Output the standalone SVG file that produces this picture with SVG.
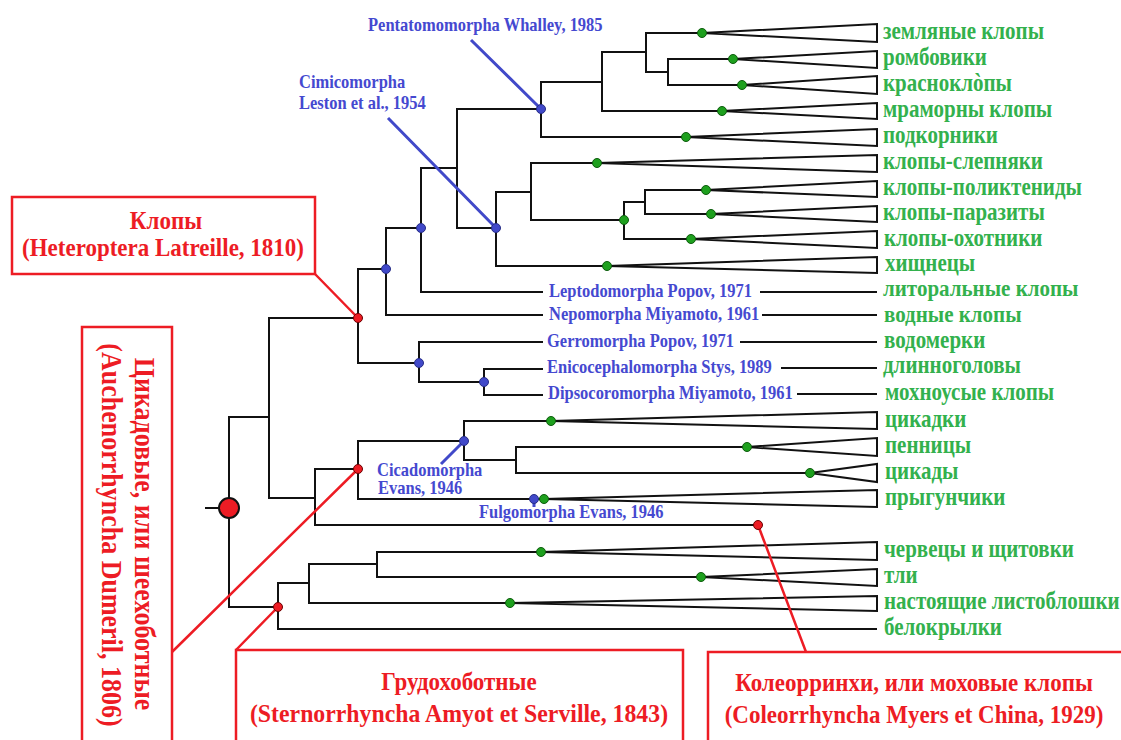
<svg xmlns="http://www.w3.org/2000/svg" width="1121" height="740" viewBox="0 0 1121 740">
<style>
.t{stroke:#111;stroke-width:2;fill:none}
.tri{stroke:#111;stroke-width:2;fill:#fff}
.g{fill:#1ea01e;stroke:#0d5c0d;stroke-width:1}
.b{fill:#4149c9;stroke:#272d86;stroke-width:1}
.r{fill:#ed1c24;stroke:#6b0000;stroke-width:1}
.lg{font-family:"Liberation Serif","Times New Roman",serif;font-weight:bold;font-size:21px;fill:#33b14d}
.lb{font-family:"Liberation Serif","Times New Roman",serif;font-weight:bold;font-size:16.5px;fill:#4549d0}
.lr{font-family:"Liberation Serif","Times New Roman",serif;font-weight:bold;font-size:23px;fill:#ed1c24;text-anchor:middle}
.lrr{font-family:"Liberation Serif","Times New Roman",serif;font-weight:bold;font-size:26px;fill:#ed1c24;text-anchor:middle}
.box{fill:#fff;stroke:#ed1c24;stroke-width:2.5}
.cr{stroke:#ed1c24;stroke-width:2.5;fill:none}
.cb{stroke:#4149c9;stroke-width:3;fill:none}
</style>
<rect width="1121" height="740" fill="#fff"/>
<g id="connectors">
<path class="t" d="M205 508H229M269 417H229V607H278M358 318H269V498H315M386 269H358V363H419M421 228H386V315H543M457 168H421V292H543M541 109H457V228H496M602 82H541V137H686M646 52H602V111H722M702 33H646V72H668M733 59H668V85H742M531 192H496V266H607M597 163H531V220H624M645 202H624V239H691M706 190H645V214H711M543 342H419V382H484M543 369H484V395H543M358 469H315V525H758M464 441H358V499H544M551 421H464V460H516M747 447H516V473H810M309 583H278V629H877M377 564H309V603H510M541 552H377V577H701M760 292H877M762 315H877M740 342H877M781 368H877M797 394H877"/>
</g>
<g id="leaves">
<g id="leaf-zemlyanye"><polygon class="tri" points="702,33 877,24 877,42"/><text class="lg" transform="translate(883,39) scale(1,1.18)">земляные клопы</text></g>
<g id="leaf-romboviki"><polygon class="tri" points="733,59 877,51 877,68"/><text class="lg" transform="translate(883,65) scale(1,1.18)">ромбовики</text></g>
<g id="leaf-krasnoklopy"><polygon class="tri" points="742,85 877,76 877,94"/><text class="lg" transform="translate(883,91) scale(1,1.18)">красноклòпы</text></g>
<g id="leaf-mramorny"><polygon class="tri" points="722,111 877,103 877,119"/><text class="lg" transform="translate(883,117) scale(1,1.18)">мраморны клопы</text></g>
<g id="leaf-podkorniki"><polygon class="tri" points="686,137 877,129 877,146"/><text class="lg" transform="translate(883,143) scale(1,1.18)">подкорники</text></g>
<g id="leaf-slepnyaki"><polygon class="tri" points="597,163 877,155 877,172"/><text class="lg" transform="translate(883,169) scale(1,1.18)">клопы-слепняки</text></g>
<g id="leaf-poliktenidy"><polygon class="tri" points="706,190 877,181 877,197"/><text class="lg" transform="translate(883,195) scale(1,1.18)">клопы-поликтениды</text></g>
<g id="leaf-parazity"><polygon class="tri" points="711,214 877,206 877,222"/><text class="lg" transform="translate(883,220) scale(1,1.18)">клопы-паразиты</text></g>
<g id="leaf-okhotniki"><polygon class="tri" points="691,239 877,231 877,248"/><text class="lg" transform="translate(884,246) scale(1,1.18)">клопы-охотники</text></g>
<g id="leaf-khishchnetsy"><polygon class="tri" points="607,266 877,257 877,273"/><text class="lg" transform="translate(885,271) scale(1,1.18)">хищнецы</text></g>
<g id="leaf-litoralnye"><text class="lb" transform="translate(549,297) scale(1,1.1)">Leptodomorpha Popov, 1971</text><text class="lg" transform="translate(883,296) scale(1,1.1)">литоральные клопы</text></g>
<g id="leaf-vodnye"><text class="lb" transform="translate(549,320) scale(1,1.1)">Nepomorpha Miyamoto, 1961</text><text class="lg" transform="translate(884,322) scale(1,1.1)">водные клопы</text></g>
<g id="leaf-vodomerki"><text class="lb" transform="translate(547,347) scale(1,1.1)">Gerromorpha Popov, 1971</text><text class="lg" transform="translate(884,348) scale(1,1.18)">водомерки</text></g>
<g id="leaf-dlinnogolovy"><text class="lb" transform="translate(547,373) scale(1,1.1)">Enicocephalomorpha Stys, 1989</text><text class="lg" transform="translate(883,373) scale(1,1.18)">длинноголовы</text></g>
<g id="leaf-mokhnousye"><text class="lb" transform="translate(548,399) scale(1,1.1)">Dipsocoromorpha Miyamoto, 1961</text><text class="lg" transform="translate(885,400) scale(1,1.18)">мохноусые клопы</text></g>
<g id="leaf-tsikadki"><polygon class="tri" points="551,421 877,412 877,429"/><text class="lg" transform="translate(885,427) scale(1,1.18)">цикадки</text></g>
<g id="leaf-pennitsy"><polygon class="tri" points="747,447 877,438 877,456"/><text class="lg" transform="translate(885,453) scale(1,1.18)">пенницы</text></g>
<g id="leaf-tsikady"><polygon class="tri" points="810,473 877,464 877,482"/><text class="lg" transform="translate(885,479) scale(1,1.18)">цикады</text></g>
<g id="leaf-prygunchiki"><polygon class="tri" points="544,499 877,490 877,507"/><text class="lg" transform="translate(885,505) scale(1,1.18)">прыгунчики</text></g>
<g id="leaf-chervetsy"><polygon class="tri" points="541,552 877,542 877,560"/><text class="lg" transform="translate(884,557) scale(1,1.18)">червецы и щитовки</text></g>
<g id="leaf-tli"><polygon class="tri" points="701,577 877,569 877,586"/><text class="lg" transform="translate(884,583) scale(1,1.18)">тли</text></g>
<g id="leaf-listobloshki"><polygon class="tri" points="510,603 877,596 877,611"/><text class="lg" transform="translate(884,609) scale(1,1.18)">настоящие листоблошки</text></g>
<g id="leaf-belokrylki"><text class="lg" transform="translate(884,635) scale(1,1.18)">белокрылки</text></g>
</g>
<g id="callouts">
<path class="cb" d="M471 40L541 109M388 118L496 228M441 464L464 441M534 499V507"/>
<path class="cr" d="M315 274L358 318M172 652L358 469M236 650L278 607M758 525L806 652"/>
</g>
<g id="box-heteroptera"><rect class="box" x="12" y="197" width="303" height="77"/><text class="lr" transform="translate(166,229) scale(1,1.12)">Клопы</text><text class="lr" transform="translate(163,256) scale(1,1.12)">(Heteroptera Latreille, 1810)</text></g>
<g id="box-auchenorrhyncha"><rect class="box" x="82" y="327" width="90" height="430"/><text class="lrr" transform="translate(135,534) rotate(90) scale(1,1.12)">Цикадовые, или шеехоботные</text><text class="lrr" transform="translate(102,535) rotate(90) scale(1,1.12)">(Auchenorrhyncha Dumeril, 1806)</text></g>
<g id="box-sternorrhyncha"><rect class="box" x="236" y="650" width="447" height="100"/><text class="lr" transform="translate(459,690) scale(1,1.12)">Грудохоботные</text><text class="lr" style="font-size:23.8px" transform="translate(459,722) scale(1,1.1)">(Sternorrhyncha Amyot et Serville, 1843)</text></g>
<g id="box-coleorrhyncha"><rect class="box" x="708" y="652" width="430" height="100"/><text class="lr" transform="translate(914,691) scale(1,1.12)">Колеорринхи, или моховые клопы</text><text class="lr" transform="translate(914,723) scale(1,1.12)">(Coleorrhyncha Myers et China, 1929)</text></g>
<g id="label-pentatomomorpha"><text class="lb" transform="translate(368,31) scale(1,1.1)">Pentatomomorpha Whalley, 1985</text></g>
<g id="label-cimicomorpha"><text class="lb" transform="translate(299,88) scale(1,1.1)">Cimicomorpha</text><text class="lb" transform="translate(299,109) scale(1,1.1)">Leston et al., 1954</text></g>
<g id="label-cicadomorpha"><text class="lb" transform="translate(377,476) scale(1,1.1)">Cicadomorpha</text><text class="lb" transform="translate(378,494) scale(1,1.1)">Evans, 1946</text></g>
<g id="label-fulgomorpha"><text class="lb" transform="translate(479,518) scale(1,1.1)">Fulgomorpha Evans, 1946</text></g>
<g id="nodes">
<g id="n-root"><circle cx="229" cy="508" r="10" fill="#ed1c24" stroke="#111" stroke-width="2"/></g>
<g id="n-heteroptera"><circle class="r" cx="358" cy="318" r="4.5"/></g>
<g id="n-auchenorrhyncha"><circle class="r" cx="358" cy="469" r="4.5"/></g>
<g id="n-sternorrhyncha"><circle class="r" cx="278" cy="607" r="4.5"/></g>
<g id="n-coleorrhyncha"><circle class="r" cx="758" cy="525" r="4.5"/></g>
<g id="n-b1"><circle class="b" cx="541" cy="109" r="4.5"/></g>
<g id="n-b2"><circle class="b" cx="496" cy="228" r="4.5"/></g>
<g id="n-b3"><circle class="b" cx="421" cy="228" r="4.5"/></g>
<g id="n-b4"><circle class="b" cx="386" cy="269" r="4.5"/></g>
<g id="n-b5"><circle class="b" cx="419" cy="363" r="4.5"/></g>
<g id="n-b6"><circle class="b" cx="484" cy="382" r="4.5"/></g>
<g id="n-b7"><circle class="b" cx="464" cy="441" r="4.5"/></g>
<g id="n-b8"><circle class="b" cx="534" cy="499" r="4.5"/></g>
<g id="n-greens">
<circle class="g" cx="702" cy="33" r="4.5"/><circle class="g" cx="733" cy="59" r="4.5"/><circle class="g" cx="742" cy="85" r="4.5"/><circle class="g" cx="722" cy="111" r="4.5"/><circle class="g" cx="686" cy="137" r="4.5"/><circle class="g" cx="597" cy="163" r="4.5"/><circle class="g" cx="706" cy="190" r="4.5"/><circle class="g" cx="711" cy="214" r="4.5"/><circle class="g" cx="691" cy="239" r="4.5"/><circle class="g" cx="607" cy="266" r="4.5"/><circle class="g" cx="624" cy="220" r="4.5"/><circle class="g" cx="551" cy="421" r="4.5"/><circle class="g" cx="747" cy="447" r="4.5"/><circle class="g" cx="810" cy="473" r="4.5"/><circle class="g" cx="544" cy="499" r="4.5"/><circle class="g" cx="541" cy="552" r="4.5"/><circle class="g" cx="701" cy="577" r="4.5"/><circle class="g" cx="510" cy="603" r="4.5"/>
</g>
</g>
</svg>
